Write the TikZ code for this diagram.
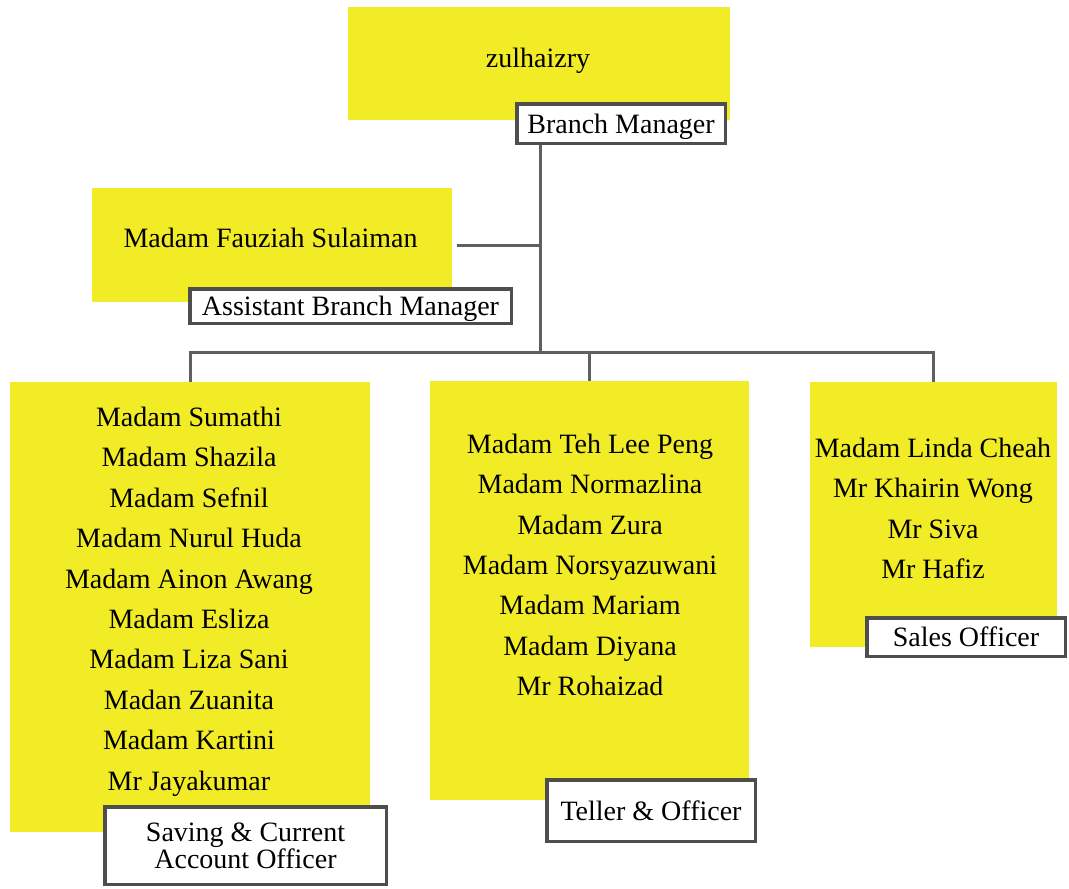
\documentclass[tikz,border=0pt]{standalone}
\usepackage{fontspec}
\setmainfont{Liberation Serif}
\definecolor{hl}{RGB}{242,236,38}
\definecolor{framegray}{RGB}{78,78,78}
\definecolor{conngray}{RGB}{95,95,95}
\begin{document}
\begin{tikzpicture}[x=1pt,y=-1pt,
  ybox/.style={fill=hl, draw=none, inner sep=0pt},
  names/.style={font=\fontsize{28}{40.4}\selectfont, align=center, inner sep=0pt},
  rolebox/.style={draw=framegray, line width=3.5pt, fill=white, inner sep=0pt,
    font=\fontsize{28}{27.5}\selectfont, align=center, text depth=0pt},
  link/.style={draw=conngray, line width=3pt}]
\useasboundingbox (0,0) rectangle (1069,889);

% yellow boxes
\node[ybox, minimum width=382pt, minimum height=113pt] (bmbox) at (539,63.5) {};
\node[ybox, minimum width=360pt, minimum height=114pt] (abmbox) at (272,245) {};
\node[ybox, minimum width=360pt, minimum height=450pt] (lbox) at (190,607) {};
\node[ybox, minimum width=319pt, minimum height=419pt] (cbox) at (589.5,590.5) {};
\node[ybox, minimum width=247pt, minimum height=265pt] (rbox) at (933.5,514.5) {};

% names
\node[names] (bmname) at (538,61) {zulhaizry};
\node[names] (abmname) at (270.5,238) {Madam Fauziah Sulaiman};
\node[names] (lnames) at (189,601.5) {Madam Sumathi\\Madam Shazila\\Madam Sefnil\\Madam Nurul Huda\\Madam Ainon Awang\\Madam Esliza\\Madam Liza Sani\\Madan Zuanita\\Madam Kartini\\Mr Jayakumar};
\node[names] (cnames) at (590,565) {Madam Teh Lee Peng\\Madam Normazlina\\Madam Zura\\Madam Norsyazuwani\\Madam Mariam\\Madam Diyana\\Mr Rohaizad};
\node[names] (rnames) at (933,508.5) {Madam Linda Cheah\\Mr Khairin Wong\\Mr Siva\\Mr Hafiz};

% role labels
\node[rolebox, minimum width=208.5pt, minimum height=39.5pt] (bmrole) at (621,123.5) {Branch Manager};
\node[rolebox, minimum width=321.5pt, minimum height=34.5pt] (abmrole) at (350.5,306) {Assistant Branch Manager};
\node[rolebox, minimum width=281.5pt, minimum height=77.5pt] (lrole) at (245.5,845.5) {Saving \& Current\\Account Officer};
\node[rolebox, minimum width=208.5pt, minimum height=61.5pt] (crole) at (651,810.5) {Teller \& Officer};
\node[rolebox, minimum width=198.5pt, minimum height=38.5pt] (rrole) at (966,637) {Sales Officer};

% connectors
\coordinate (trunk) at (540,352);
\coordinate (abmend) at ([xshift=5pt]abmbox.east);
\draw[link] (bmrole.south -| trunk) -- (trunk);
\draw[link] (abmend) -- (abmend -| trunk);
\draw[link] (lbox.north) -- (lbox.north |- trunk) -- (rbox.north |- trunk) -- (rbox.north);
\draw[link] (cbox.north) -- (cbox.north |- trunk);
\end{tikzpicture}
\end{document}
